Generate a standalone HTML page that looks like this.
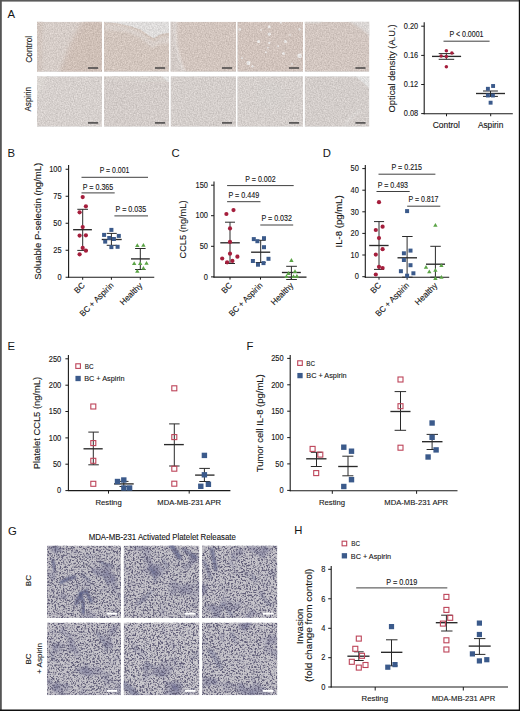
<!DOCTYPE html>
<html><head><meta charset="utf-8"><style>
html,body{margin:0;padding:0;background:#fff;}
svg{display:block;font-family:"Liberation Sans", sans-serif;}
</style></head><body>
<svg width="520" height="711" viewBox="0 0 520 711">
<defs>
<filter id="fA" x="0" y="0" width="100%" height="100%"><feTurbulence type="fractalNoise" baseFrequency="0.6" numOctaves="2" seed="3"/><feColorMatrix type="matrix" values="0 0 0 0 0.78  0 0 0 0 0.73  0 0 0 0 0.70  0 0 0 -1.2 1.0"/><feComposite in2="SourceGraphic" operator="in"/></filter>
<filter id="fG" x="0" y="0" width="100%" height="100%"><feTurbulence type="fractalNoise" baseFrequency="0.5" numOctaves="2" seed="7"/><feColorMatrix type="matrix" values="0 0 0 0 0.82  0 0 0 0 0.82  0 0 0 0 0.85  0 0 0 -2.2 1.3"/><feComposite in2="SourceGraphic" operator="in"/></filter>
<filter id="grainA" x="0" y="0" width="1" height="1" color-interpolation-filters="sRGB"><feTurbulence type="fractalNoise" baseFrequency="0.75" numOctaves="2" seed="3" result="n"/><feColorMatrix in="n" type="matrix" values="1 0 0 0 0  1 0 0 0 0  1 0 0 0 0  0 0 0 0 1" result="g"/><feComposite in="SourceGraphic" in2="g" operator="arithmetic" k1="0" k2="1" k3="0.22" k4="-0.11" result="o"/><feComposite in="o" in2="SourceGraphic" operator="in"/></filter>
<filter id="spkG" x="0" y="0" width="1" height="1" color-interpolation-filters="sRGB"><feTurbulence type="fractalNoise" baseFrequency="0.6" numOctaves="2" seed="11" result="n1"/><feColorMatrix in="n1" type="matrix" values="0 0 0 0 0.38  0 0 0 0 0.37  0 0 0 0 0.47  -5 0 0 0 3.1" result="a1"/><feTurbulence type="fractalNoise" baseFrequency="0.6" numOctaves="2" seed="37" result="n2"/><feColorMatrix in="n2" type="matrix" values="0 0 0 0 0  0 0 0 0 0  0 0 0 0 0  -5 0 0 0 3.1" result="a2"/><feComposite in="a1" in2="a2" operator="in" result="d"/><feGaussianBlur in="d" stdDeviation="0.5"/><feComposite in2="SourceGraphic" operator="in"/></filter>
<filter id="blobG" x="0" y="0" width="1" height="1" color-interpolation-filters="sRGB"><feTurbulence type="fractalNoise" baseFrequency="0.05" numOctaves="3" seed="21"/><feColorMatrix type="matrix" values="0 0 0 0 0.40  0 0 0 0 0.40  0 0 0 0 0.56  -2.2 0 0 0 1.0"/><feComposite in2="SourceGraphic" operator="in"/></filter>
<pattern id="noiseA" width="4" height="4" patternUnits="userSpaceOnUse"><rect width="4" height="4" fill="#ccc"/></pattern>
<clipPath id="cA00"><rect x="37" y="21.7" width="65.00" height="50.10"/></clipPath><clipPath id="cA01"><rect x="37" y="76.3" width="65.00" height="50.40"/></clipPath><clipPath id="cA10"><rect x="104" y="21.7" width="65.00" height="50.10"/></clipPath><clipPath id="cA11"><rect x="104" y="76.3" width="65.00" height="50.40"/></clipPath><clipPath id="cA20"><rect x="170.5" y="21.7" width="65.50" height="50.10"/></clipPath><clipPath id="cA21"><rect x="170.5" y="76.3" width="65.50" height="50.40"/></clipPath><clipPath id="cA30"><rect x="237.3" y="21.7" width="65.70" height="50.10"/></clipPath><clipPath id="cA31"><rect x="237.3" y="76.3" width="65.70" height="50.40"/></clipPath><clipPath id="cA40"><rect x="304.6" y="21.7" width="64.80" height="50.10"/></clipPath><clipPath id="cA41"><rect x="304.6" y="76.3" width="64.80" height="50.40"/></clipPath><clipPath id="cG00"><rect x="46.9" y="545.5" width="74.20" height="72.50"/></clipPath><clipPath id="cG01"><rect x="46.9" y="622.5" width="74.20" height="72.70"/></clipPath><clipPath id="cG10"><rect x="123.6" y="545.5" width="75.80" height="72.50"/></clipPath><clipPath id="cG11"><rect x="123.6" y="622.5" width="75.80" height="72.70"/></clipPath><clipPath id="cG20"><rect x="201.9" y="545.5" width="75.50" height="72.50"/></clipPath><clipPath id="cG21"><rect x="201.9" y="622.5" width="75.50" height="72.70"/></clipPath><filter id="bl1" x="-50%" y="-50%" width="200%" height="200%"><feGaussianBlur stdDeviation="0.31"/></filter><filter id="bl2" x="-50%" y="-50%" width="200%" height="200%"><feGaussianBlur stdDeviation="0.62"/></filter><filter id="bl3" x="-50%" y="-50%" width="200%" height="200%"><feGaussianBlur stdDeviation="0.94"/></filter><filter id="bl4" x="-50%" y="-50%" width="200%" height="200%"><feGaussianBlur stdDeviation="1.25"/></filter><filter id="bl5" x="-50%" y="-50%" width="200%" height="200%"><feGaussianBlur stdDeviation="1.56"/></filter><filter id="bl6" x="-50%" y="-50%" width="200%" height="200%"><feGaussianBlur stdDeviation="1.88"/></filter><filter id="bl7" x="-50%" y="-50%" width="200%" height="200%"><feGaussianBlur stdDeviation="2.19"/></filter><filter id="bl8" x="-50%" y="-50%" width="200%" height="200%"><feGaussianBlur stdDeviation="2.50"/></filter><filter id="bl9" x="-50%" y="-50%" width="200%" height="200%"><feGaussianBlur stdDeviation="2.81"/></filter><filter id="bl10" x="-50%" y="-50%" width="200%" height="200%"><feGaussianBlur stdDeviation="3.12"/></filter><filter id="bl11" x="-50%" y="-50%" width="200%" height="200%"><feGaussianBlur stdDeviation="3.44"/></filter><filter id="bl12" x="-50%" y="-50%" width="200%" height="200%"><feGaussianBlur stdDeviation="3.75"/></filter></defs>
<rect x="0" y="0" width="520" height="711" fill="#fff"/>
<text x="7.60" y="17.90" font-size="11.3" fill="#161616">A</text>
<g clip-path="url(#cA00)"><g filter="url(#grainA)">
<rect x="37" y="21.7" width="65.00" height="50.10" fill="#d6cdc8"/>
<polygon points="35.0,19.7 43.0,19.7 42.0,73.7 35.0,73.7" fill="#d2c6bf" filter="url(#bl4)"/>
<polygon points="83.0,19.7 104.0,19.7 104.0,73.7 59.0,73.7 71.0,41.7" fill="#cfc0b7" filter="url(#bl6)"/>
</g></g>
<line x1="88.00" y1="68.00" x2="98.10" y2="68.00" stroke="#4e4c4c" stroke-width="1.6"/>
<g clip-path="url(#cA01)"><g filter="url(#grainA)">
<rect x="37" y="76.3" width="65.00" height="50.40" fill="#d6d0cd"/>
<polygon points="35.0,74.3 49.0,74.3 43.0,84.3 40.0,94.3 35.0,96.3" fill="#dcd7d3" filter="url(#bl4)"/>
</g></g>
<line x1="88.00" y1="122.90" x2="98.10" y2="122.90" stroke="#4e4c4c" stroke-width="1.6"/>
<g clip-path="url(#cA10)"><g filter="url(#grainA)">
<rect x="104" y="21.7" width="65.00" height="50.10" fill="#d2c5bd"/>
<polygon points="103.0,19.7 104.7,22.5 115.5,22.9 129.6,25.9 140.4,29.5 150.0,36.2 154.0,38.2 159.0,34.9 162.5,33.7 171.0,32.7 171.0,19.7" fill="#dfdddc" filter="url(#bl1)"/>
<polygon points="104.0,23.7 116.0,24.7 130.0,28.2 141.0,32.2 149.0,39.2 154.0,41.7 160.0,37.7 171.0,35.7 171.0,43.7 160.0,43.7 152.0,47.7 140.0,37.7 126.0,31.7 104.0,29.7" fill="#d9d0cb" filter="url(#bl4)"/>
</g></g>
<line x1="155.00" y1="68.00" x2="165.10" y2="68.00" stroke="#4e4c4c" stroke-width="1.6"/>
<g clip-path="url(#cA11)"><g filter="url(#grainA)">
<rect x="104" y="76.3" width="65.00" height="50.40" fill="#d3ccc9"/>
<polygon points="102.0,74.3 171.0,74.3 171.0,82.3 144.0,82.3 119.0,80.3 102.0,81.3" fill="#d6d0cc" filter="url(#bl3)"/>
<polygon points="159.0,74.3 171.0,74.3 171.0,84.3 166.0,80.3" fill="#e2e1e0" filter="url(#bl2)"/>
</g></g>
<line x1="155.00" y1="122.90" x2="165.10" y2="122.90" stroke="#4e4c4c" stroke-width="1.6"/>
<g clip-path="url(#cA20)"><g filter="url(#grainA)">
<rect x="170.5" y="21.7" width="65.50" height="50.10" fill="#d2c5be"/>
<polygon points="168.5,19.7 176.0,19.7 175.3,31.7 176.3,46.7 180.0,61.7 184.5,73.7 168.5,73.7" fill="#d3cbc7" filter="url(#bl2)"/>
<polyline points="176.5,19.7 175.7,31.7 176.7,46.7 180.5,61.7 185.3,73.7" fill="none" stroke="#e6e3e1" stroke-width="1.4" filter="url(#bl3)"/>
</g></g>
<line x1="222.00" y1="68.00" x2="232.10" y2="68.00" stroke="#4e4c4c" stroke-width="1.6"/>
<g clip-path="url(#cA21)"><g filter="url(#grainA)">
<rect x="170.5" y="76.3" width="65.50" height="50.40" fill="#d4cecb"/>
</g></g>
<line x1="222.00" y1="122.90" x2="232.10" y2="122.90" stroke="#4e4c4c" stroke-width="1.6"/>
<g clip-path="url(#cA30)"><g filter="url(#grainA)">
<rect x="237.3" y="21.7" width="65.70" height="50.10" fill="#d1c3bc"/>
<circle cx="269.3" cy="26.7" r="1.52" fill="#e8e6e5" filter="url(#bl1)"/>
<circle cx="269.3" cy="34.1" r="1.71" fill="#e8e6e5" filter="url(#bl1)"/>
<circle cx="258.6" cy="41.5" r="1.615" fill="#e8e6e5" filter="url(#bl1)"/>
<circle cx="285.5" cy="41.5" r="1.52" fill="#e8e6e5" filter="url(#bl1)"/>
<circle cx="269.3" cy="42.9" r="1.14" fill="#e8e6e5" filter="url(#bl1)"/>
<circle cx="268.0" cy="47.6" r="0.95" fill="#e8e6e5" filter="url(#bl1)"/>
<circle cx="283.5" cy="53.6" r="1.52" fill="#e8e6e5" filter="url(#bl1)"/>
<circle cx="248.5" cy="63.1" r="2.09" fill="#e8e6e5" filter="url(#bl1)"/>
<circle cx="299.6" cy="55.7" r="2.28" fill="#e8e6e5" filter="url(#bl1)"/>
<circle cx="280.8" cy="22.7" r="1.14" fill="#e8e6e5" filter="url(#bl1)"/>
<circle cx="239.7" cy="29.4" r="1.3299999999999998" fill="#e8e6e5" filter="url(#bl1)"/>
<circle cx="252.5" cy="66.4" r="1.14" fill="#e8e6e5" filter="url(#bl1)"/>
<circle cx="266.0" cy="52.3" r="0.95" fill="#e8e6e5" filter="url(#bl1)"/>
<circle cx="278.0" cy="46.2" r="0.95" fill="#e8e6e5" filter="url(#bl1)"/>
<circle cx="299.6" cy="29.4" r="1.14" fill="#e8e6e5" filter="url(#bl1)"/>
<circle cx="290.0" cy="35.0" r="0.855" fill="#e8e6e5" filter="url(#bl1)"/>
<circle cx="261.0" cy="30.0" r="0.855" fill="#e8e6e5" filter="url(#bl1)"/>
<circle cx="242.0" cy="58.0" r="0.95" fill="#e8e6e5" filter="url(#bl1)"/>
<circle cx="292.0" cy="64.0" r="0.95" fill="#e8e6e5" filter="url(#bl1)"/>
</g></g>
<line x1="289.00" y1="68.00" x2="299.10" y2="68.00" stroke="#4e4c4c" stroke-width="1.6"/>
<g clip-path="url(#cA31)"><g filter="url(#grainA)">
<rect x="237.3" y="76.3" width="65.70" height="50.40" fill="#d5cfcc"/>
<polygon points="257.3,86.3 277.3,81.3 287.3,96.3 272.3,111.3 255.3,104.3" fill="#d4cfcc" filter="url(#bl10)"/>
</g></g>
<line x1="289.00" y1="122.90" x2="299.10" y2="122.90" stroke="#4e4c4c" stroke-width="1.6"/>
<g clip-path="url(#cA40)"><g filter="url(#grainA)">
<rect x="304.6" y="21.7" width="64.80" height="50.10" fill="#d2c6c0"/>
<polygon points="346.6,19.7 371.6,19.7 371.6,37.7 362.6,29.7" fill="#dbd7d5" filter="url(#bl3)"/>
<polygon points="304.6,19.7 324.6,19.7 320.6,23.2 304.6,23.7" fill="#d8d2ce" filter="url(#bl2)"/>
</g></g>
<line x1="355.40" y1="68.00" x2="365.50" y2="68.00" stroke="#4e4c4c" stroke-width="1.6"/>
<g clip-path="url(#cA41)"><g filter="url(#grainA)">
<rect x="304.6" y="76.3" width="64.80" height="50.40" fill="#d3cdca"/>
<polygon points="352.6,74.3 371.6,74.3 371.6,90.3 362.6,82.3" fill="#e0dfde" filter="url(#bl2)"/>
<polyline points="344.6,126.3 348.6,120.3 354.6,114.3 360.6,110.3" fill="none" stroke="#e2dfdd" stroke-width="1.6" filter="url(#bl3)"/>
</g></g>
<line x1="355.40" y1="122.90" x2="365.50" y2="122.90" stroke="#4e4c4c" stroke-width="1.6"/>
<text transform="translate(31.60,49.30) rotate(-90)" font-size="8.6" text-anchor="middle" textLength="27.00" lengthAdjust="spacingAndGlyphs" fill="#161616" stroke="#161616" stroke-width="0.12">Control</text>
<text transform="translate(31.30,99.20) rotate(-90)" font-size="8.6" text-anchor="middle" textLength="24.60" lengthAdjust="spacingAndGlyphs" fill="#161616" stroke="#161616" stroke-width="0.12">Aspirin</text>
<line x1="424.20" y1="22.20" x2="424.20" y2="114.25" stroke="#1a1a1a" stroke-width="1.1"/>
<line x1="421.20" y1="26.20" x2="424.20" y2="26.20" stroke="#1a1a1a" stroke-width="1.0"/>
<text x="418.20" y="28.95" font-size="8.3" text-anchor="end" textLength="14.35" lengthAdjust="spacingAndGlyphs" fill="#161616" stroke="#161616" stroke-width="0.12">0.20</text>
<line x1="421.20" y1="55.40" x2="424.20" y2="55.40" stroke="#1a1a1a" stroke-width="1.0"/>
<text x="418.20" y="58.15" font-size="8.3" text-anchor="end" textLength="14.35" lengthAdjust="spacingAndGlyphs" fill="#161616" stroke="#161616" stroke-width="0.12">0.16</text>
<line x1="421.20" y1="84.50" x2="424.20" y2="84.50" stroke="#1a1a1a" stroke-width="1.0"/>
<text x="418.20" y="87.25" font-size="8.3" text-anchor="end" textLength="14.35" lengthAdjust="spacingAndGlyphs" fill="#161616" stroke="#161616" stroke-width="0.12">0.12</text>
<line x1="421.20" y1="113.60" x2="424.20" y2="113.60" stroke="#1a1a1a" stroke-width="1.0"/>
<text x="418.20" y="116.35" font-size="8.3" text-anchor="end" textLength="14.35" lengthAdjust="spacingAndGlyphs" fill="#161616" stroke="#161616" stroke-width="0.12">0.08</text>
<line x1="423.70" y1="113.75" x2="512.80" y2="113.75" stroke="#1a1a1a" stroke-width="1.1"/>
<line x1="446.50" y1="113.75" x2="446.50" y2="116.25" stroke="#1a1a1a" stroke-width="1.0"/>
<line x1="490.70" y1="113.75" x2="490.70" y2="116.25" stroke="#1a1a1a" stroke-width="1.0"/>
<text x="446.30" y="128.00" font-size="8.4" text-anchor="middle" textLength="27.20" lengthAdjust="spacingAndGlyphs" fill="#161616" stroke="#161616" stroke-width="0.12">Control</text>
<text x="490.60" y="128.00" font-size="8.4" text-anchor="middle" textLength="25.40" lengthAdjust="spacingAndGlyphs" fill="#161616" stroke="#161616" stroke-width="0.12">Aspirin</text>
<text transform="translate(395.00,68.40) rotate(-90)" font-size="9.3" text-anchor="middle" textLength="88.20" lengthAdjust="spacingAndGlyphs" fill="#161616" stroke="#161616" stroke-width="0.12">Optical density (A.U.)</text>
<line x1="443.50" y1="41.20" x2="489.60" y2="41.20" stroke="#2a2a2a" stroke-width="0.9"/>
<text x="466.45" y="37.00" font-size="8.2" text-anchor="middle" textLength="34.10" lengthAdjust="spacingAndGlyphs" fill="#161616" stroke="#161616" stroke-width="0.12">P &lt; 0.0001</text>
<line x1="446.35" y1="53.60" x2="446.35" y2="59.30" stroke="#2a2a2a" stroke-width="1.0"/>
<line x1="438.70" y1="53.60" x2="454.20" y2="53.60" stroke="#2a2a2a" stroke-width="1.0"/>
<line x1="438.70" y1="59.30" x2="454.20" y2="59.30" stroke="#2a2a2a" stroke-width="1.0"/>
<line x1="432.00" y1="56.40" x2="461.10" y2="56.40" stroke="#2a2a2a" stroke-width="1.35"/>
<line x1="490.50" y1="91.00" x2="490.50" y2="96.40" stroke="#2a2a2a" stroke-width="1.0"/>
<line x1="483.00" y1="91.00" x2="497.90" y2="91.00" stroke="#2a2a2a" stroke-width="1.0"/>
<line x1="483.00" y1="96.40" x2="497.90" y2="96.40" stroke="#2a2a2a" stroke-width="1.0"/>
<line x1="476.00" y1="93.50" x2="505.00" y2="93.50" stroke="#2a2a2a" stroke-width="1.35"/>
<text x="7.60" y="157.20" font-size="11.3" fill="#161616">B</text>
<line x1="68.60" y1="165.10" x2="68.60" y2="277.75" stroke="#1a1a1a" stroke-width="1.1"/>
<line x1="65.60" y1="277.25" x2="68.60" y2="277.25" stroke="#1a1a1a" stroke-width="1.0"/>
<text x="61.60" y="280.00" font-size="8.3" text-anchor="end" textLength="4.15" lengthAdjust="spacingAndGlyphs" fill="#161616" stroke="#161616" stroke-width="0.12">0</text>
<line x1="65.60" y1="250.25" x2="68.60" y2="250.25" stroke="#1a1a1a" stroke-width="1.0"/>
<text x="61.60" y="253.00" font-size="8.3" text-anchor="end" textLength="8.30" lengthAdjust="spacingAndGlyphs" fill="#161616" stroke="#161616" stroke-width="0.12">25</text>
<line x1="65.60" y1="223.25" x2="68.60" y2="223.25" stroke="#1a1a1a" stroke-width="1.0"/>
<text x="61.60" y="226.00" font-size="8.3" text-anchor="end" textLength="8.30" lengthAdjust="spacingAndGlyphs" fill="#161616" stroke="#161616" stroke-width="0.12">50</text>
<line x1="65.60" y1="196.25" x2="68.60" y2="196.25" stroke="#1a1a1a" stroke-width="1.0"/>
<text x="61.60" y="199.00" font-size="8.3" text-anchor="end" textLength="8.30" lengthAdjust="spacingAndGlyphs" fill="#161616" stroke="#161616" stroke-width="0.12">75</text>
<line x1="65.60" y1="169.25" x2="68.60" y2="169.25" stroke="#1a1a1a" stroke-width="1.0"/>
<text x="61.60" y="172.00" font-size="8.3" text-anchor="end" textLength="12.45" lengthAdjust="spacingAndGlyphs" fill="#161616" stroke="#161616" stroke-width="0.12">100</text>
<line x1="68.10" y1="277.25" x2="154.25" y2="277.25" stroke="#1a1a1a" stroke-width="1.1"/>
<line x1="82.70" y1="277.25" x2="82.70" y2="279.75" stroke="#1a1a1a" stroke-width="1.0"/>
<line x1="111.40" y1="277.25" x2="111.40" y2="279.75" stroke="#1a1a1a" stroke-width="1.0"/>
<line x1="140.30" y1="277.25" x2="140.30" y2="279.75" stroke="#1a1a1a" stroke-width="1.0"/>
<text transform="translate(40.90,221.30) rotate(-90)" font-size="9.4" text-anchor="middle" textLength="117.00" lengthAdjust="spacingAndGlyphs" fill="#161616" stroke="#161616" stroke-width="0.12">Soluable P-selectin (ng/mL)</text>
<line x1="81.50" y1="177.30" x2="148.00" y2="177.30" stroke="#2a2a2a" stroke-width="0.9"/>
<text x="114.55" y="173.30" font-size="8.2" text-anchor="middle" textLength="29.70" lengthAdjust="spacingAndGlyphs" fill="#161616" stroke="#161616" stroke-width="0.12">P = 0.001</text>
<line x1="81.50" y1="192.90" x2="114.70" y2="192.90" stroke="#2a2a2a" stroke-width="0.9"/>
<text x="98.00" y="189.60" font-size="8.2" text-anchor="middle" textLength="30.60" lengthAdjust="spacingAndGlyphs" fill="#161616" stroke="#161616" stroke-width="0.12">P = 0.365</text>
<line x1="114.40" y1="215.90" x2="148.00" y2="215.90" stroke="#2a2a2a" stroke-width="0.9"/>
<text x="130.90" y="212.20" font-size="8.2" text-anchor="middle" textLength="30.60" lengthAdjust="spacingAndGlyphs" fill="#161616" stroke="#161616" stroke-width="0.12">P = 0.035</text>
<line x1="82.70" y1="209.30" x2="82.70" y2="250.40" stroke="#2a2a2a" stroke-width="1.0"/>
<line x1="77.30" y1="209.30" x2="88.00" y2="209.30" stroke="#2a2a2a" stroke-width="1.0"/>
<line x1="77.30" y1="250.40" x2="88.00" y2="250.40" stroke="#2a2a2a" stroke-width="1.0"/>
<line x1="73.10" y1="229.70" x2="91.90" y2="229.70" stroke="#2a2a2a" stroke-width="1.35"/>
<line x1="111.40" y1="233.40" x2="111.40" y2="245.30" stroke="#2a2a2a" stroke-width="1.0"/>
<line x1="106.70" y1="233.40" x2="116.75" y2="233.40" stroke="#2a2a2a" stroke-width="1.0"/>
<line x1="106.70" y1="245.30" x2="116.75" y2="245.30" stroke="#2a2a2a" stroke-width="1.0"/>
<line x1="101.75" y1="239.50" x2="121.70" y2="239.50" stroke="#2a2a2a" stroke-width="1.35"/>
<line x1="140.30" y1="248.50" x2="140.30" y2="269.50" stroke="#2a2a2a" stroke-width="1.0"/>
<line x1="135.10" y1="248.50" x2="145.60" y2="248.50" stroke="#2a2a2a" stroke-width="1.0"/>
<line x1="135.10" y1="269.50" x2="145.60" y2="269.50" stroke="#2a2a2a" stroke-width="1.0"/>
<line x1="131.00" y1="258.90" x2="149.80" y2="258.90" stroke="#2a2a2a" stroke-width="1.35"/>
<text x="171.40" y="157.30" font-size="11.3" fill="#161616">C</text>
<line x1="214.00" y1="181.50" x2="214.00" y2="277.60" stroke="#1a1a1a" stroke-width="1.1"/>
<line x1="211.00" y1="185.20" x2="214.00" y2="185.20" stroke="#1a1a1a" stroke-width="1.0"/>
<text x="208.00" y="187.95" font-size="8.3" text-anchor="end" textLength="12.45" lengthAdjust="spacingAndGlyphs" fill="#161616" stroke="#161616" stroke-width="0.12">150</text>
<line x1="211.00" y1="215.70" x2="214.00" y2="215.70" stroke="#1a1a1a" stroke-width="1.0"/>
<text x="208.00" y="218.45" font-size="8.3" text-anchor="end" textLength="12.45" lengthAdjust="spacingAndGlyphs" fill="#161616" stroke="#161616" stroke-width="0.12">100</text>
<line x1="211.00" y1="246.30" x2="214.00" y2="246.30" stroke="#1a1a1a" stroke-width="1.0"/>
<text x="208.00" y="249.05" font-size="8.3" text-anchor="end" textLength="8.30" lengthAdjust="spacingAndGlyphs" fill="#161616" stroke="#161616" stroke-width="0.12">50</text>
<line x1="211.00" y1="276.90" x2="214.00" y2="276.90" stroke="#1a1a1a" stroke-width="1.0"/>
<text x="208.00" y="279.65" font-size="8.3" text-anchor="end" textLength="4.15" lengthAdjust="spacingAndGlyphs" fill="#161616" stroke="#161616" stroke-width="0.12">0</text>
<line x1="213.50" y1="277.10" x2="306.50" y2="277.10" stroke="#1a1a1a" stroke-width="1.1"/>
<line x1="230.00" y1="277.10" x2="230.00" y2="279.60" stroke="#1a1a1a" stroke-width="1.0"/>
<line x1="260.50" y1="277.10" x2="260.50" y2="279.60" stroke="#1a1a1a" stroke-width="1.0"/>
<line x1="291.30" y1="277.10" x2="291.30" y2="279.60" stroke="#1a1a1a" stroke-width="1.0"/>
<text transform="translate(186.30,229.50) rotate(-90)" font-size="9.4" text-anchor="middle" textLength="58.00" lengthAdjust="spacingAndGlyphs" fill="#161616" stroke="#161616" stroke-width="0.12">CCL5 (ng/mL)</text>
<line x1="227.10" y1="185.60" x2="293.70" y2="185.60" stroke="#2a2a2a" stroke-width="0.9"/>
<text x="260.45" y="181.90" font-size="8.2" text-anchor="middle" textLength="30.30" lengthAdjust="spacingAndGlyphs" fill="#161616" stroke="#161616" stroke-width="0.12">P = 0.002</text>
<line x1="227.10" y1="201.70" x2="260.50" y2="201.70" stroke="#2a2a2a" stroke-width="0.9"/>
<text x="243.80" y="198.00" font-size="8.2" text-anchor="middle" textLength="30.60" lengthAdjust="spacingAndGlyphs" fill="#161616" stroke="#161616" stroke-width="0.12">P = 0.449</text>
<line x1="260.30" y1="225.00" x2="293.20" y2="225.00" stroke="#2a2a2a" stroke-width="0.9"/>
<text x="276.70" y="221.20" font-size="8.2" text-anchor="middle" textLength="30.60" lengthAdjust="spacingAndGlyphs" fill="#161616" stroke="#161616" stroke-width="0.12">P = 0.032</text>
<line x1="230.00" y1="222.20" x2="230.00" y2="263.50" stroke="#2a2a2a" stroke-width="1.0"/>
<line x1="225.00" y1="222.20" x2="235.00" y2="222.20" stroke="#2a2a2a" stroke-width="1.0"/>
<line x1="225.00" y1="263.50" x2="235.00" y2="263.50" stroke="#2a2a2a" stroke-width="1.0"/>
<line x1="220.30" y1="242.80" x2="239.80" y2="242.80" stroke="#2a2a2a" stroke-width="1.35"/>
<line x1="260.70" y1="240.30" x2="260.70" y2="262.50" stroke="#2a2a2a" stroke-width="1.0"/>
<line x1="255.70" y1="240.30" x2="265.70" y2="240.30" stroke="#2a2a2a" stroke-width="1.0"/>
<line x1="255.70" y1="262.50" x2="265.70" y2="262.50" stroke="#2a2a2a" stroke-width="1.0"/>
<line x1="251.10" y1="252.20" x2="270.20" y2="252.20" stroke="#2a2a2a" stroke-width="1.35"/>
<line x1="291.40" y1="266.30" x2="291.40" y2="279.50" stroke="#2a2a2a" stroke-width="1.0"/>
<line x1="286.20" y1="266.30" x2="296.90" y2="266.30" stroke="#2a2a2a" stroke-width="1.0"/>
<line x1="286.20" y1="279.50" x2="296.90" y2="279.50" stroke="#2a2a2a" stroke-width="1.0"/>
<line x1="281.90" y1="272.50" x2="300.80" y2="272.50" stroke="#2a2a2a" stroke-width="1.35"/>
<text x="322.80" y="157.00" font-size="11.3" fill="#161616">D</text>
<line x1="365.30" y1="165.10" x2="365.30" y2="277.70" stroke="#1a1a1a" stroke-width="1.1"/>
<line x1="362.30" y1="168.60" x2="365.30" y2="168.60" stroke="#1a1a1a" stroke-width="1.0"/>
<text x="358.80" y="171.35" font-size="8.3" text-anchor="end" textLength="8.30" lengthAdjust="spacingAndGlyphs" fill="#161616" stroke="#161616" stroke-width="0.12">50</text>
<line x1="362.30" y1="190.20" x2="365.30" y2="190.20" stroke="#1a1a1a" stroke-width="1.0"/>
<text x="358.80" y="192.95" font-size="8.3" text-anchor="end" textLength="8.30" lengthAdjust="spacingAndGlyphs" fill="#161616" stroke="#161616" stroke-width="0.12">40</text>
<line x1="362.30" y1="211.80" x2="365.30" y2="211.80" stroke="#1a1a1a" stroke-width="1.0"/>
<text x="358.80" y="214.55" font-size="8.3" text-anchor="end" textLength="8.30" lengthAdjust="spacingAndGlyphs" fill="#161616" stroke="#161616" stroke-width="0.12">30</text>
<line x1="362.30" y1="233.40" x2="365.30" y2="233.40" stroke="#1a1a1a" stroke-width="1.0"/>
<text x="358.80" y="236.15" font-size="8.3" text-anchor="end" textLength="8.30" lengthAdjust="spacingAndGlyphs" fill="#161616" stroke="#161616" stroke-width="0.12">20</text>
<line x1="362.30" y1="255.00" x2="365.30" y2="255.00" stroke="#1a1a1a" stroke-width="1.0"/>
<text x="358.80" y="257.75" font-size="8.3" text-anchor="end" textLength="8.30" lengthAdjust="spacingAndGlyphs" fill="#161616" stroke="#161616" stroke-width="0.12">10</text>
<line x1="362.30" y1="276.70" x2="365.30" y2="276.70" stroke="#1a1a1a" stroke-width="1.0"/>
<text x="358.80" y="279.45" font-size="8.3" text-anchor="end" textLength="4.15" lengthAdjust="spacingAndGlyphs" fill="#161616" stroke="#161616" stroke-width="0.12">0</text>
<line x1="364.80" y1="277.20" x2="449.20" y2="277.20" stroke="#1a1a1a" stroke-width="1.1"/>
<line x1="379.00" y1="277.20" x2="379.00" y2="279.70" stroke="#1a1a1a" stroke-width="1.0"/>
<line x1="407.10" y1="277.20" x2="407.10" y2="279.70" stroke="#1a1a1a" stroke-width="1.0"/>
<line x1="435.40" y1="277.20" x2="435.40" y2="279.70" stroke="#1a1a1a" stroke-width="1.0"/>
<text transform="translate(341.60,221.40) rotate(-90)" font-size="9.4" text-anchor="middle" textLength="52.00" lengthAdjust="spacingAndGlyphs" fill="#161616" stroke="#161616" stroke-width="0.12">IL-8 (pg/mL)</text>
<line x1="378.50" y1="174.20" x2="435.40" y2="174.20" stroke="#2a2a2a" stroke-width="0.9"/>
<text x="406.75" y="169.50" font-size="8.2" text-anchor="middle" textLength="30.50" lengthAdjust="spacingAndGlyphs" fill="#161616" stroke="#161616" stroke-width="0.12">P = 0.215</text>
<line x1="376.50" y1="191.50" x2="409.70" y2="191.50" stroke="#2a2a2a" stroke-width="0.9"/>
<text x="392.85" y="187.80" font-size="8.2" text-anchor="middle" textLength="30.30" lengthAdjust="spacingAndGlyphs" fill="#161616" stroke="#161616" stroke-width="0.12">P = 0.493</text>
<line x1="407.20" y1="206.20" x2="440.30" y2="206.20" stroke="#2a2a2a" stroke-width="0.9"/>
<text x="423.50" y="202.40" font-size="8.2" text-anchor="middle" textLength="30.00" lengthAdjust="spacingAndGlyphs" fill="#161616" stroke="#161616" stroke-width="0.12">P = 0.817</text>
<line x1="379.00" y1="221.60" x2="379.00" y2="269.40" stroke="#2a2a2a" stroke-width="1.0"/>
<line x1="374.00" y1="221.60" x2="384.10" y2="221.60" stroke="#2a2a2a" stroke-width="1.0"/>
<line x1="374.00" y1="269.40" x2="384.10" y2="269.40" stroke="#2a2a2a" stroke-width="1.0"/>
<line x1="369.20" y1="245.50" x2="388.60" y2="245.50" stroke="#2a2a2a" stroke-width="1.35"/>
<line x1="407.10" y1="236.50" x2="407.10" y2="277.20" stroke="#2a2a2a" stroke-width="1.0"/>
<line x1="402.10" y1="236.50" x2="412.60" y2="236.50" stroke="#2a2a2a" stroke-width="1.0"/>
<line x1="402.10" y1="277.20" x2="412.60" y2="277.20" stroke="#2a2a2a" stroke-width="1.0"/>
<line x1="397.50" y1="257.80" x2="417.00" y2="257.80" stroke="#2a2a2a" stroke-width="1.35"/>
<line x1="435.40" y1="246.30" x2="435.40" y2="277.20" stroke="#2a2a2a" stroke-width="1.0"/>
<line x1="430.30" y1="246.30" x2="440.80" y2="246.30" stroke="#2a2a2a" stroke-width="1.0"/>
<line x1="430.30" y1="277.20" x2="440.80" y2="277.20" stroke="#2a2a2a" stroke-width="1.0"/>
<line x1="426.00" y1="264.20" x2="445.00" y2="264.20" stroke="#2a2a2a" stroke-width="1.35"/>
<text transform="translate(85.30,286.00) rotate(-45)" font-size="8.4" text-anchor="end" textLength="11.20" lengthAdjust="spacingAndGlyphs" fill="#161616" stroke="#161616" stroke-width="0.12">BC</text>
<text transform="translate(114.00,286.00) rotate(-45)" font-size="8.4" text-anchor="end" textLength="43.80" lengthAdjust="spacingAndGlyphs" fill="#161616" stroke="#161616" stroke-width="0.12">BC + Aspirin</text>
<text transform="translate(142.90,286.00) rotate(-45)" font-size="8.4" text-anchor="end" textLength="27.90" lengthAdjust="spacingAndGlyphs" fill="#161616" stroke="#161616" stroke-width="0.12">Healthy</text>
<text transform="translate(232.60,286.00) rotate(-45)" font-size="8.4" text-anchor="end" textLength="11.20" lengthAdjust="spacingAndGlyphs" fill="#161616" stroke="#161616" stroke-width="0.12">BC</text>
<text transform="translate(263.10,286.00) rotate(-45)" font-size="8.4" text-anchor="end" textLength="43.80" lengthAdjust="spacingAndGlyphs" fill="#161616" stroke="#161616" stroke-width="0.12">BC + Aspirin</text>
<text transform="translate(293.90,286.00) rotate(-45)" font-size="8.4" text-anchor="end" textLength="27.90" lengthAdjust="spacingAndGlyphs" fill="#161616" stroke="#161616" stroke-width="0.12">Healthy</text>
<text transform="translate(381.60,286.00) rotate(-45)" font-size="8.4" text-anchor="end" textLength="11.20" lengthAdjust="spacingAndGlyphs" fill="#161616" stroke="#161616" stroke-width="0.12">BC</text>
<text transform="translate(409.70,286.00) rotate(-45)" font-size="8.4" text-anchor="end" textLength="43.80" lengthAdjust="spacingAndGlyphs" fill="#161616" stroke="#161616" stroke-width="0.12">BC + Aspirin</text>
<text transform="translate(438.00,286.00) rotate(-45)" font-size="8.4" text-anchor="end" textLength="27.90" lengthAdjust="spacingAndGlyphs" fill="#161616" stroke="#161616" stroke-width="0.12">Healthy</text>
<text x="7.60" y="350.30" font-size="11.3" fill="#161616">E</text>
<line x1="68.40" y1="354.90" x2="68.40" y2="491.10" stroke="#1a1a1a" stroke-width="1.1"/>
<line x1="65.40" y1="358.80" x2="68.40" y2="358.80" stroke="#1a1a1a" stroke-width="1.0"/>
<text x="61.20" y="361.55" font-size="8.3" text-anchor="end" textLength="12.45" lengthAdjust="spacingAndGlyphs" fill="#161616" stroke="#161616" stroke-width="0.12">250</text>
<line x1="65.40" y1="385.20" x2="68.40" y2="385.20" stroke="#1a1a1a" stroke-width="1.0"/>
<text x="61.20" y="387.95" font-size="8.3" text-anchor="end" textLength="12.45" lengthAdjust="spacingAndGlyphs" fill="#161616" stroke="#161616" stroke-width="0.12">200</text>
<line x1="65.40" y1="411.50" x2="68.40" y2="411.50" stroke="#1a1a1a" stroke-width="1.0"/>
<text x="61.20" y="414.25" font-size="8.3" text-anchor="end" textLength="12.45" lengthAdjust="spacingAndGlyphs" fill="#161616" stroke="#161616" stroke-width="0.12">150</text>
<line x1="65.40" y1="437.90" x2="68.40" y2="437.90" stroke="#1a1a1a" stroke-width="1.0"/>
<text x="61.20" y="440.65" font-size="8.3" text-anchor="end" textLength="12.45" lengthAdjust="spacingAndGlyphs" fill="#161616" stroke="#161616" stroke-width="0.12">100</text>
<line x1="65.40" y1="464.20" x2="68.40" y2="464.20" stroke="#1a1a1a" stroke-width="1.0"/>
<text x="61.20" y="466.95" font-size="8.3" text-anchor="end" textLength="8.30" lengthAdjust="spacingAndGlyphs" fill="#161616" stroke="#161616" stroke-width="0.12">50</text>
<line x1="65.40" y1="490.60" x2="68.40" y2="490.60" stroke="#1a1a1a" stroke-width="1.0"/>
<text x="61.20" y="493.35" font-size="8.3" text-anchor="end" textLength="4.15" lengthAdjust="spacingAndGlyphs" fill="#161616" stroke="#161616" stroke-width="0.12">0</text>
<line x1="67.90" y1="490.60" x2="230.40" y2="490.60" stroke="#1a1a1a" stroke-width="1.1"/>
<line x1="108.50" y1="490.60" x2="108.50" y2="493.60" stroke="#1a1a1a" stroke-width="1.0"/>
<line x1="189.20" y1="490.60" x2="189.20" y2="493.60" stroke="#1a1a1a" stroke-width="1.0"/>
<text transform="translate(40.40,423.10) rotate(-90)" font-size="9.4" text-anchor="middle" textLength="92.20" lengthAdjust="spacingAndGlyphs" fill="#161616" stroke="#161616" stroke-width="0.12">Platelet CCL5 (ng/mL)</text>
<text x="84.80" y="368.90" font-size="7.8" textLength="8.80" lengthAdjust="spacingAndGlyphs" fill="#161616" stroke="#161616" stroke-width="0.12">BC</text>
<text x="84.20" y="381.20" font-size="7.8" textLength="40.30" lengthAdjust="spacingAndGlyphs" fill="#161616" stroke="#161616" stroke-width="0.12">BC + Aspirin</text>
<text x="108.60" y="504.50" font-size="8.1" text-anchor="middle" textLength="26.20" lengthAdjust="spacingAndGlyphs" fill="#161616" stroke="#161616" stroke-width="0.12">Resting</text>
<text x="189.20" y="504.50" font-size="8.1" text-anchor="middle" textLength="63.80" lengthAdjust="spacingAndGlyphs" fill="#161616" stroke="#161616" stroke-width="0.12">MDA-MB-231 APR</text>
<line x1="93.30" y1="432.10" x2="93.30" y2="464.80" stroke="#2a2a2a" stroke-width="1.0"/>
<line x1="88.30" y1="432.10" x2="98.80" y2="432.10" stroke="#2a2a2a" stroke-width="1.0"/>
<line x1="88.30" y1="464.80" x2="98.80" y2="464.80" stroke="#2a2a2a" stroke-width="1.0"/>
<line x1="83.50" y1="448.80" x2="102.70" y2="448.80" stroke="#2a2a2a" stroke-width="1.35"/>
<line x1="123.80" y1="481.40" x2="123.80" y2="486.50" stroke="#2a2a2a" stroke-width="1.0"/>
<line x1="119.50" y1="481.40" x2="128.50" y2="481.40" stroke="#2a2a2a" stroke-width="1.0"/>
<line x1="119.50" y1="486.50" x2="128.50" y2="486.50" stroke="#2a2a2a" stroke-width="1.0"/>
<line x1="114.00" y1="483.90" x2="133.70" y2="483.90" stroke="#2a2a2a" stroke-width="1.35"/>
<line x1="174.30" y1="423.90" x2="174.30" y2="466.00" stroke="#2a2a2a" stroke-width="1.0"/>
<line x1="169.10" y1="423.90" x2="179.60" y2="423.90" stroke="#2a2a2a" stroke-width="1.0"/>
<line x1="169.10" y1="466.00" x2="179.60" y2="466.00" stroke="#2a2a2a" stroke-width="1.0"/>
<line x1="164.00" y1="444.60" x2="183.80" y2="444.60" stroke="#2a2a2a" stroke-width="1.35"/>
<line x1="204.40" y1="468.40" x2="204.40" y2="481.50" stroke="#2a2a2a" stroke-width="1.0"/>
<line x1="199.30" y1="468.40" x2="209.90" y2="468.40" stroke="#2a2a2a" stroke-width="1.0"/>
<line x1="199.30" y1="481.50" x2="209.90" y2="481.50" stroke="#2a2a2a" stroke-width="1.0"/>
<line x1="195.10" y1="475.10" x2="214.50" y2="475.10" stroke="#2a2a2a" stroke-width="1.35"/>
<text x="246.40" y="350.20" font-size="11.3" fill="#161616">F</text>
<line x1="290.20" y1="355.00" x2="290.20" y2="491.30" stroke="#1a1a1a" stroke-width="1.1"/>
<line x1="287.20" y1="358.40" x2="290.20" y2="358.40" stroke="#1a1a1a" stroke-width="1.0"/>
<text x="283.60" y="361.15" font-size="8.3" text-anchor="end" textLength="12.45" lengthAdjust="spacingAndGlyphs" fill="#161616" stroke="#161616" stroke-width="0.12">250</text>
<line x1="287.20" y1="384.80" x2="290.20" y2="384.80" stroke="#1a1a1a" stroke-width="1.0"/>
<text x="283.60" y="387.55" font-size="8.3" text-anchor="end" textLength="12.45" lengthAdjust="spacingAndGlyphs" fill="#161616" stroke="#161616" stroke-width="0.12">200</text>
<line x1="287.20" y1="411.20" x2="290.20" y2="411.20" stroke="#1a1a1a" stroke-width="1.0"/>
<text x="283.60" y="413.95" font-size="8.3" text-anchor="end" textLength="12.45" lengthAdjust="spacingAndGlyphs" fill="#161616" stroke="#161616" stroke-width="0.12">150</text>
<line x1="287.20" y1="437.60" x2="290.20" y2="437.60" stroke="#1a1a1a" stroke-width="1.0"/>
<text x="283.60" y="440.35" font-size="8.3" text-anchor="end" textLength="12.45" lengthAdjust="spacingAndGlyphs" fill="#161616" stroke="#161616" stroke-width="0.12">100</text>
<line x1="287.20" y1="463.90" x2="290.20" y2="463.90" stroke="#1a1a1a" stroke-width="1.0"/>
<text x="283.60" y="466.65" font-size="8.3" text-anchor="end" textLength="8.30" lengthAdjust="spacingAndGlyphs" fill="#161616" stroke="#161616" stroke-width="0.12">50</text>
<line x1="287.20" y1="490.40" x2="290.20" y2="490.40" stroke="#1a1a1a" stroke-width="1.0"/>
<text x="283.60" y="493.15" font-size="8.3" text-anchor="end" textLength="4.15" lengthAdjust="spacingAndGlyphs" fill="#161616" stroke="#161616" stroke-width="0.12">0</text>
<line x1="289.70" y1="490.80" x2="457.50" y2="490.80" stroke="#1a1a1a" stroke-width="1.1"/>
<line x1="332.30" y1="490.80" x2="332.30" y2="493.80" stroke="#1a1a1a" stroke-width="1.0"/>
<line x1="416.60" y1="490.80" x2="416.60" y2="493.80" stroke="#1a1a1a" stroke-width="1.0"/>
<text transform="translate(262.80,423.30) rotate(-90)" font-size="9.4" text-anchor="middle" textLength="98.00" lengthAdjust="spacingAndGlyphs" fill="#161616" stroke="#161616" stroke-width="0.12">Tumor cell IL-8 (pg/mL)</text>
<text x="306.30" y="365.90" font-size="7.8" textLength="8.80" lengthAdjust="spacingAndGlyphs" fill="#161616" stroke="#161616" stroke-width="0.12">BC</text>
<text x="306.30" y="378.30" font-size="7.8" textLength="40.30" lengthAdjust="spacingAndGlyphs" fill="#161616" stroke="#161616" stroke-width="0.12">BC + Aspirin</text>
<text x="332.00" y="504.50" font-size="8.1" text-anchor="middle" textLength="26.20" lengthAdjust="spacingAndGlyphs" fill="#161616" stroke="#161616" stroke-width="0.12">Resting</text>
<text x="416.20" y="504.50" font-size="8.1" text-anchor="middle" textLength="63.90" lengthAdjust="spacingAndGlyphs" fill="#161616" stroke="#161616" stroke-width="0.12">MDA-MB-231 APR</text>
<line x1="316.50" y1="452.30" x2="316.50" y2="466.50" stroke="#2a2a2a" stroke-width="1.0"/>
<line x1="310.80" y1="452.30" x2="321.80" y2="452.30" stroke="#2a2a2a" stroke-width="1.0"/>
<line x1="310.80" y1="466.50" x2="321.80" y2="466.50" stroke="#2a2a2a" stroke-width="1.0"/>
<line x1="306.20" y1="458.80" x2="326.50" y2="458.80" stroke="#2a2a2a" stroke-width="1.35"/>
<line x1="348.00" y1="456.20" x2="348.00" y2="475.80" stroke="#2a2a2a" stroke-width="1.0"/>
<line x1="342.30" y1="456.20" x2="353.40" y2="456.20" stroke="#2a2a2a" stroke-width="1.0"/>
<line x1="342.30" y1="475.80" x2="353.40" y2="475.80" stroke="#2a2a2a" stroke-width="1.0"/>
<line x1="338.20" y1="466.50" x2="357.70" y2="466.50" stroke="#2a2a2a" stroke-width="1.35"/>
<line x1="400.50" y1="391.60" x2="400.50" y2="430.30" stroke="#2a2a2a" stroke-width="1.0"/>
<line x1="394.60" y1="391.60" x2="406.10" y2="391.60" stroke="#2a2a2a" stroke-width="1.0"/>
<line x1="394.60" y1="430.30" x2="406.10" y2="430.30" stroke="#2a2a2a" stroke-width="1.0"/>
<line x1="390.40" y1="411.50" x2="410.50" y2="411.50" stroke="#2a2a2a" stroke-width="1.35"/>
<line x1="432.10" y1="434.40" x2="432.10" y2="449.50" stroke="#2a2a2a" stroke-width="1.0"/>
<line x1="426.60" y1="434.40" x2="438.00" y2="434.40" stroke="#2a2a2a" stroke-width="1.0"/>
<line x1="426.60" y1="449.50" x2="438.00" y2="449.50" stroke="#2a2a2a" stroke-width="1.0"/>
<line x1="422.00" y1="441.70" x2="442.50" y2="441.70" stroke="#2a2a2a" stroke-width="1.35"/>
<text x="7.90" y="534.50" font-size="11.3" fill="#161616">G</text>
<text x="162.30" y="540.20" font-size="8.5" text-anchor="middle" textLength="147.20" lengthAdjust="spacingAndGlyphs" fill="#161616" stroke="#161616" stroke-width="0.12">MDA-MB-231 Activated Platelet Releasate</text>
<g clip-path="url(#cG00)">
<rect x="46.9" y="545.5" width="74.20" height="72.50" fill="#c5c3c9"/>
<rect x="46.9" y="545.5" width="74.20" height="72.50" fill="#000" filter="url(#blobG)"/>
<polyline points="52.7,560.1 53.9,565.5 54.9,570.4" fill="none" stroke="#3e4478" stroke-width="2.6" stroke-linecap="round" stroke-linejoin="round" opacity="0.68" filter="url(#bl3)"/>
<polyline points="60.9,582.5 64.4,580.5 68.9,578.5 74.7,576.9" fill="none" stroke="#3e4478" stroke-width="3.1" stroke-linecap="round" stroke-linejoin="round" opacity="0.71" filter="url(#bl3)"/>
<polyline points="81.9,574.5 84.9,577.0 89.3,580.5" fill="none" stroke="#3e4478" stroke-width="2.2" stroke-linecap="round" stroke-linejoin="round" opacity="0.52" filter="url(#bl3)"/>
<polyline points="76.1,604.0 80.5,593.7 86.4,590.8 90.8,601.1" fill="none" stroke="#3e4478" stroke-width="3.1" stroke-linecap="round" stroke-linejoin="round" opacity="0.71" filter="url(#bl3)"/>
<polyline points="80.5,593.7 83.4,603.5 83.4,612.8" fill="none" stroke="#3e4478" stroke-width="3.1" stroke-linecap="round" stroke-linejoin="round" opacity="0.71" filter="url(#bl3)"/>
<polyline points="99.5,561.5 105.4,564.5 112.7,566.0" fill="none" stroke="#3e4478" stroke-width="2.2" stroke-linecap="round" stroke-linejoin="round" opacity="0.52" filter="url(#bl3)"/>
<polyline points="102.5,574.7 104.9,578.5 108.3,583.5" fill="none" stroke="#3e4478" stroke-width="1.9" stroke-linecap="round" stroke-linejoin="round" opacity="0.45" filter="url(#bl3)"/>
<polyline points="54.9,547.5 60.9,550.5" fill="none" stroke="#3e4478" stroke-width="1.9" stroke-linecap="round" stroke-linejoin="round" opacity="0.38" filter="url(#bl3)"/>
<rect x="46.9" y="545.5" width="74.20" height="72.50" fill="#000" filter="url(#spkG)"/>
</g>
<line x1="106.60" y1="613.70" x2="117.30" y2="613.70" stroke="#ffffff" stroke-width="1.9"/>
<g clip-path="url(#cG01)">
<rect x="46.9" y="622.5" width="74.20" height="72.70" fill="#c7c5cb"/>
<rect x="46.9" y="622.5" width="74.20" height="72.70" fill="#000" filter="url(#blobG)"/>
<polyline points="96.9,632.5 102.9,640.5 106.9,650.5" fill="none" stroke="#3e4478" stroke-width="2.4" stroke-linecap="round" stroke-linejoin="round" opacity="0.34" filter="url(#bl3)"/>
<polyline points="50.9,652.5 54.9,660.5" fill="none" stroke="#3e4478" stroke-width="2.2" stroke-linecap="round" stroke-linejoin="round" opacity="0.34" filter="url(#bl3)"/>
<rect x="46.9" y="622.5" width="74.20" height="72.70" fill="#000" filter="url(#spkG)"/>
</g>
<line x1="106.60" y1="690.90" x2="117.30" y2="690.90" stroke="#ffffff" stroke-width="1.9"/>
<g clip-path="url(#cG10)">
<rect x="123.6" y="545.5" width="75.80" height="72.50" fill="#c6c4ca"/>
<rect x="123.6" y="545.5" width="75.80" height="72.50" fill="#000" filter="url(#blobG)"/>
<polyline points="171.6,545.5 175.6,551.5 179.6,557.5" fill="none" stroke="#3e4478" stroke-width="4.8" stroke-linecap="round" stroke-linejoin="round" opacity="0.60" filter="url(#bl3)"/>
<polyline points="183.6,549.5 189.6,553.5 195.6,557.5" fill="none" stroke="#3e4478" stroke-width="3.6" stroke-linecap="round" stroke-linejoin="round" opacity="0.45" filter="url(#bl3)"/>
<polyline points="149.6,567.5 153.6,573.5 155.6,581.5" fill="none" stroke="#3e4478" stroke-width="2.4" stroke-linecap="round" stroke-linejoin="round" opacity="0.45" filter="url(#bl3)"/>
<polyline points="163.6,559.5 167.6,567.5" fill="none" stroke="#3e4478" stroke-width="1.9" stroke-linecap="round" stroke-linejoin="round" opacity="0.38" filter="url(#bl3)"/>
<polyline points="137.6,603.5 145.6,597.5 151.6,591.5" fill="none" stroke="#3e4478" stroke-width="2.2" stroke-linecap="round" stroke-linejoin="round" opacity="0.38" filter="url(#bl3)"/>
<rect x="123.6" y="545.5" width="75.80" height="72.50" fill="#000" filter="url(#spkG)"/>
</g>
<line x1="184.90" y1="613.70" x2="195.60" y2="613.70" stroke="#ffffff" stroke-width="1.9"/>
<g clip-path="url(#cG11)">
<rect x="123.6" y="622.5" width="75.80" height="72.70" fill="#cbc9ce"/>
<rect x="123.6" y="622.5" width="75.80" height="72.70" fill="#000" filter="url(#blobG)"/>
<polyline points="123.6,684.5 129.6,688.5 135.6,694.5" fill="none" stroke="#3e4478" stroke-width="7.2" stroke-linecap="round" stroke-linejoin="round" opacity="0.38" filter="url(#bl3)"/>
<polyline points="145.6,662.5 151.6,666.5" fill="none" stroke="#3e4478" stroke-width="2.2" stroke-linecap="round" stroke-linejoin="round" opacity="0.38" filter="url(#bl3)"/>
<polyline points="179.6,662.5 183.6,668.5" fill="none" stroke="#3e4478" stroke-width="1.9" stroke-linecap="round" stroke-linejoin="round" opacity="0.30" filter="url(#bl3)"/>
<rect x="123.6" y="622.5" width="75.80" height="72.70" fill="#000" filter="url(#spkG)"/>
</g>
<line x1="184.90" y1="690.90" x2="195.60" y2="690.90" stroke="#ffffff" stroke-width="1.9"/>
<g clip-path="url(#cG20)">
<rect x="201.9" y="545.5" width="75.50" height="72.50" fill="#c7c5cb"/>
<rect x="201.9" y="545.5" width="75.50" height="72.50" fill="#000" filter="url(#blobG)"/>
<polyline points="211.9,549.5 213.9,559.5 215.9,569.5" fill="none" stroke="#3e4478" stroke-width="3.6" stroke-linecap="round" stroke-linejoin="round" opacity="0.60" filter="url(#bl3)"/>
<polyline points="203.9,561.5 207.9,569.5 209.9,577.5" fill="none" stroke="#3e4478" stroke-width="2.9" stroke-linecap="round" stroke-linejoin="round" opacity="0.45" filter="url(#bl3)"/>
<polyline points="231.9,555.5 237.9,559.5" fill="none" stroke="#3e4478" stroke-width="1.9" stroke-linecap="round" stroke-linejoin="round" opacity="0.38" filter="url(#bl3)"/>
<polyline points="251.9,575.5 255.9,581.5" fill="none" stroke="#3e4478" stroke-width="1.9" stroke-linecap="round" stroke-linejoin="round" opacity="0.38" filter="url(#bl3)"/>
<polyline points="261.9,595.5 265.9,601.5 271.9,605.5" fill="none" stroke="#3e4478" stroke-width="1.9" stroke-linecap="round" stroke-linejoin="round" opacity="0.38" filter="url(#bl3)"/>
<polyline points="221.9,603.5 227.9,609.5 231.9,615.5" fill="none" stroke="#3e4478" stroke-width="2.4" stroke-linecap="round" stroke-linejoin="round" opacity="0.45" filter="url(#bl3)"/>
<rect x="201.9" y="545.5" width="75.50" height="72.50" fill="#000" filter="url(#spkG)"/>
</g>
<line x1="262.90" y1="613.70" x2="273.60" y2="613.70" stroke="#ffffff" stroke-width="1.9"/>
<g clip-path="url(#cG21)">
<rect x="201.9" y="622.5" width="75.50" height="72.70" fill="#c7c5cb"/>
<rect x="201.9" y="622.5" width="75.50" height="72.70" fill="#000" filter="url(#blobG)"/>
<polyline points="209.9,650.5 215.9,658.5 219.9,666.5" fill="none" stroke="#3e4478" stroke-width="4.8" stroke-linecap="round" stroke-linejoin="round" opacity="0.30" filter="url(#bl3)"/>
<polyline points="231.9,632.5 235.9,642.5" fill="none" stroke="#3e4478" stroke-width="2.4" stroke-linecap="round" stroke-linejoin="round" opacity="0.26" filter="url(#bl3)"/>
<rect x="201.9" y="622.5" width="75.50" height="72.70" fill="#000" filter="url(#spkG)"/>
</g>
<line x1="262.90" y1="690.90" x2="273.60" y2="690.90" stroke="#ffffff" stroke-width="1.9"/>
<text transform="translate(31.00,580.60) rotate(-90)" font-size="8.0" text-anchor="middle" fill="#161616" stroke="#161616" stroke-width="0.12">BC</text>
<text transform="translate(31.00,658.90) rotate(-90)" font-size="8.0" text-anchor="middle" fill="#161616" stroke="#161616" stroke-width="0.12">BC</text>
<text transform="translate(41.90,658.40) rotate(-90)" font-size="8.0" text-anchor="middle" fill="#161616" stroke="#161616" stroke-width="0.12">+ Aspirin</text>
<text x="294.20" y="533.80" font-size="11.3" fill="#161616">H</text>
<text x="351.20" y="546.30" font-size="7.8" textLength="8.80" lengthAdjust="spacingAndGlyphs" fill="#161616" stroke="#161616" stroke-width="0.12">BC</text>
<text x="350.80" y="558.60" font-size="7.8" textLength="40.30" lengthAdjust="spacingAndGlyphs" fill="#161616" stroke="#161616" stroke-width="0.12">BC + Aspirin</text>
<line x1="331.20" y1="566.00" x2="331.20" y2="687.50" stroke="#1a1a1a" stroke-width="1.1"/>
<line x1="328.20" y1="569.30" x2="331.20" y2="569.30" stroke="#1a1a1a" stroke-width="1.0"/>
<text x="325.40" y="572.05" font-size="8.3" text-anchor="end" textLength="4.15" lengthAdjust="spacingAndGlyphs" fill="#161616" stroke="#161616" stroke-width="0.12">8</text>
<line x1="328.20" y1="598.80" x2="331.20" y2="598.80" stroke="#1a1a1a" stroke-width="1.0"/>
<text x="325.40" y="601.55" font-size="8.3" text-anchor="end" textLength="4.15" lengthAdjust="spacingAndGlyphs" fill="#161616" stroke="#161616" stroke-width="0.12">6</text>
<line x1="328.20" y1="628.30" x2="331.20" y2="628.30" stroke="#1a1a1a" stroke-width="1.0"/>
<text x="325.40" y="631.05" font-size="8.3" text-anchor="end" textLength="4.15" lengthAdjust="spacingAndGlyphs" fill="#161616" stroke="#161616" stroke-width="0.12">4</text>
<line x1="328.20" y1="657.70" x2="331.20" y2="657.70" stroke="#1a1a1a" stroke-width="1.0"/>
<text x="325.40" y="660.45" font-size="8.3" text-anchor="end" textLength="4.15" lengthAdjust="spacingAndGlyphs" fill="#161616" stroke="#161616" stroke-width="0.12">2</text>
<line x1="328.20" y1="687.00" x2="331.20" y2="687.00" stroke="#1a1a1a" stroke-width="1.0"/>
<text x="325.40" y="689.75" font-size="8.3" text-anchor="end" textLength="4.15" lengthAdjust="spacingAndGlyphs" fill="#161616" stroke="#161616" stroke-width="0.12">0</text>
<line x1="330.70" y1="687.00" x2="508.00" y2="687.00" stroke="#1a1a1a" stroke-width="1.1"/>
<line x1="375.20" y1="687.00" x2="375.20" y2="690.50" stroke="#1a1a1a" stroke-width="1.0"/>
<line x1="463.30" y1="687.00" x2="463.30" y2="690.50" stroke="#1a1a1a" stroke-width="1.0"/>
<text transform="translate(302.60,626.40) rotate(-90)" font-size="9.4" text-anchor="middle" textLength="35.40" lengthAdjust="spacingAndGlyphs" fill="#161616" stroke="#161616" stroke-width="0.12">Invasion</text>
<text transform="translate(312.40,625.30) rotate(-90)" font-size="9.4" text-anchor="middle" textLength="113.40" lengthAdjust="spacingAndGlyphs" fill="#161616" stroke="#161616" stroke-width="0.12">(fold change from control)</text>
<line x1="356.20" y1="587.90" x2="447.30" y2="587.90" stroke="#2a2a2a" stroke-width="0.9"/>
<text x="401.80" y="584.80" font-size="8.2" text-anchor="middle" textLength="31.20" lengthAdjust="spacingAndGlyphs" fill="#161616" stroke="#161616" stroke-width="0.12">P = 0.019</text>
<text x="374.80" y="701.20" font-size="8.1" text-anchor="middle" textLength="26.60" lengthAdjust="spacingAndGlyphs" fill="#161616" stroke="#161616" stroke-width="0.12">Resting</text>
<text x="463.40" y="701.20" font-size="8.1" text-anchor="middle" textLength="63.50" lengthAdjust="spacingAndGlyphs" fill="#161616" stroke="#161616" stroke-width="0.12">MDA-MB-231 APR</text>
<line x1="358.80" y1="651.80" x2="358.80" y2="660.50" stroke="#2a2a2a" stroke-width="1.0"/>
<line x1="354.00" y1="651.80" x2="363.70" y2="651.80" stroke="#2a2a2a" stroke-width="1.0"/>
<line x1="354.00" y1="660.50" x2="363.70" y2="660.50" stroke="#2a2a2a" stroke-width="1.0"/>
<line x1="347.40" y1="656.20" x2="369.50" y2="656.20" stroke="#2a2a2a" stroke-width="1.35"/>
<line x1="391.50" y1="639.80" x2="391.50" y2="665.80" stroke="#2a2a2a" stroke-width="1.0"/>
<line x1="386.00" y1="639.80" x2="397.50" y2="639.80" stroke="#2a2a2a" stroke-width="1.0"/>
<line x1="386.00" y1="665.80" x2="397.50" y2="665.80" stroke="#2a2a2a" stroke-width="1.0"/>
<line x1="381.00" y1="652.30" x2="402.40" y2="652.30" stroke="#2a2a2a" stroke-width="1.35"/>
<line x1="446.40" y1="615.20" x2="446.40" y2="631.00" stroke="#2a2a2a" stroke-width="1.0"/>
<line x1="441.10" y1="615.20" x2="452.50" y2="615.20" stroke="#2a2a2a" stroke-width="1.0"/>
<line x1="441.10" y1="631.00" x2="452.50" y2="631.00" stroke="#2a2a2a" stroke-width="1.0"/>
<line x1="435.80" y1="622.70" x2="457.50" y2="622.70" stroke="#2a2a2a" stroke-width="1.35"/>
<line x1="479.40" y1="638.60" x2="479.40" y2="654.40" stroke="#2a2a2a" stroke-width="1.0"/>
<line x1="474.00" y1="638.60" x2="485.40" y2="638.60" stroke="#2a2a2a" stroke-width="1.0"/>
<line x1="474.00" y1="654.40" x2="485.40" y2="654.40" stroke="#2a2a2a" stroke-width="1.0"/>
<line x1="468.70" y1="646.10" x2="490.70" y2="646.10" stroke="#2a2a2a" stroke-width="1.35"/>
<circle cx="446.35" cy="50.70" r="1.75" fill="#a51e3c"/>
<circle cx="451.90" cy="52.90" r="1.75" fill="#a51e3c"/>
<circle cx="441.10" cy="55.90" r="1.75" fill="#a51e3c"/>
<circle cx="446.35" cy="56.60" r="1.75" fill="#a51e3c"/>
<circle cx="446.35" cy="66.70" r="1.75" fill="#a51e3c"/>
<rect x="491.15" y="84.05" width="3.9" height="3.9" fill="#3b5a8b"/>
<rect x="485.95" y="86.85" width="3.9" height="3.9" fill="#3b5a8b"/>
<rect x="485.95" y="93.55" width="3.9" height="3.9" fill="#3b5a8b"/>
<rect x="490.95" y="93.55" width="3.9" height="3.9" fill="#3b5a8b"/>
<rect x="488.65" y="100.75" width="3.9" height="3.9" fill="#3b5a8b"/>
<circle cx="82.70" cy="197.10" r="2.1" fill="#a51e3c"/>
<circle cx="85.90" cy="206.30" r="2.1" fill="#a51e3c"/>
<circle cx="79.60" cy="212.30" r="2.1" fill="#a51e3c"/>
<circle cx="82.70" cy="227.10" r="2.1" fill="#a51e3c"/>
<circle cx="79.60" cy="235.60" r="2.1" fill="#a51e3c"/>
<circle cx="85.90" cy="235.30" r="2.1" fill="#a51e3c"/>
<circle cx="82.70" cy="247.90" r="2.1" fill="#a51e3c"/>
<circle cx="85.90" cy="250.70" r="2.1" fill="#a51e3c"/>
<circle cx="79.60" cy="254.30" r="2.1" fill="#a51e3c"/>
<rect x="109.40" y="227.90" width="4.0" height="4.0" fill="#3b5a8b"/>
<rect x="102.10" y="232.90" width="4.0" height="4.0" fill="#3b5a8b"/>
<rect x="116.80" y="233.90" width="4.0" height="4.0" fill="#3b5a8b"/>
<rect x="107.25" y="236.00" width="4.0" height="4.0" fill="#3b5a8b"/>
<rect x="111.90" y="237.00" width="4.0" height="4.0" fill="#3b5a8b"/>
<rect x="103.20" y="239.60" width="4.0" height="4.0" fill="#3b5a8b"/>
<rect x="109.40" y="245.10" width="4.0" height="4.0" fill="#3b5a8b"/>
<rect x="115.60" y="244.80" width="4.0" height="4.0" fill="#3b5a8b"/>
<polygon points="135.10,247.00 139.50,247.00 137.30,243.20" fill="#5ba446"/>
<polygon points="141.20,246.70 145.60,246.70 143.40,242.90" fill="#5ba446"/>
<polygon points="132.00,265.10 136.40,265.10 134.20,261.30" fill="#5ba446"/>
<polygon points="138.00,265.10 142.40,265.10 140.20,261.30" fill="#5ba446"/>
<polygon points="144.30,264.70 148.70,264.70 146.50,260.90" fill="#5ba446"/>
<polygon points="141.20,269.80 145.60,269.80 143.40,266.00" fill="#5ba446"/>
<polygon points="135.10,272.70 139.50,272.70 137.30,268.90" fill="#5ba446"/>
<circle cx="233.50" cy="210.10" r="2.1" fill="#a51e3c"/>
<circle cx="226.40" cy="214.00" r="2.1" fill="#a51e3c"/>
<circle cx="230.00" cy="228.40" r="2.1" fill="#a51e3c"/>
<circle cx="230.00" cy="241.90" r="2.1" fill="#a51e3c"/>
<circle cx="230.00" cy="253.70" r="2.1" fill="#a51e3c"/>
<circle cx="222.20" cy="258.50" r="2.1" fill="#a51e3c"/>
<circle cx="237.40" cy="256.70" r="2.1" fill="#a51e3c"/>
<circle cx="227.10" cy="262.30" r="2.1" fill="#a51e3c"/>
<circle cx="232.40" cy="260.90" r="2.1" fill="#a51e3c"/>
<rect x="251.80" y="237.10" width="4.0" height="4.0" fill="#3b5a8b"/>
<rect x="255.40" y="239.20" width="4.0" height="4.0" fill="#3b5a8b"/>
<rect x="262.00" y="236.20" width="4.0" height="4.0" fill="#3b5a8b"/>
<rect x="262.00" y="245.20" width="4.0" height="4.0" fill="#3b5a8b"/>
<rect x="250.90" y="259.00" width="4.0" height="4.0" fill="#3b5a8b"/>
<rect x="256.00" y="262.70" width="4.0" height="4.0" fill="#3b5a8b"/>
<rect x="261.50" y="261.10" width="4.0" height="4.0" fill="#3b5a8b"/>
<rect x="266.50" y="256.80" width="4.0" height="4.0" fill="#3b5a8b"/>
<polygon points="289.20,261.90 293.60,261.90 291.40,258.10" fill="#5ba446"/>
<polygon points="286.30,274.90 290.70,274.90 288.50,271.10" fill="#5ba446"/>
<polygon points="292.80,273.10 297.20,273.10 295.00,269.30" fill="#5ba446"/>
<polygon points="284.30,278.10 288.70,278.10 286.50,274.30" fill="#5ba446"/>
<polygon points="291.30,278.10 295.70,278.10 293.50,274.30" fill="#5ba446"/>
<polygon points="294.70,277.70 299.10,277.70 296.90,273.90" fill="#5ba446"/>
<circle cx="379.00" cy="202.20" r="2.1" fill="#a51e3c"/>
<circle cx="382.60" cy="226.70" r="2.1" fill="#a51e3c"/>
<circle cx="375.80" cy="230.00" r="2.1" fill="#a51e3c"/>
<circle cx="379.00" cy="238.10" r="2.1" fill="#a51e3c"/>
<circle cx="382.60" cy="249.20" r="2.1" fill="#a51e3c"/>
<circle cx="375.80" cy="254.60" r="2.1" fill="#a51e3c"/>
<circle cx="379.00" cy="266.80" r="2.1" fill="#a51e3c"/>
<circle cx="382.60" cy="268.00" r="2.1" fill="#a51e3c"/>
<circle cx="375.80" cy="274.50" r="2.1" fill="#a51e3c"/>
<rect x="405.10" y="209.10" width="4.0" height="4.0" fill="#3b5a8b"/>
<rect x="408.50" y="248.60" width="4.0" height="4.0" fill="#3b5a8b"/>
<rect x="401.90" y="251.30" width="4.0" height="4.0" fill="#3b5a8b"/>
<rect x="401.90" y="258.00" width="4.0" height="4.0" fill="#3b5a8b"/>
<rect x="408.50" y="263.20" width="4.0" height="4.0" fill="#3b5a8b"/>
<rect x="398.90" y="269.20" width="4.0" height="4.0" fill="#3b5a8b"/>
<rect x="411.40" y="271.30" width="4.0" height="4.0" fill="#3b5a8b"/>
<rect x="405.10" y="273.70" width="4.0" height="4.0" fill="#3b5a8b"/>
<polygon points="433.20,226.70 437.60,226.70 435.40,222.90" fill="#5ba446"/>
<polygon points="439.20,267.10 443.60,267.10 441.40,263.30" fill="#5ba446"/>
<polygon points="423.80,268.80 428.20,268.80 426.00,265.00" fill="#5ba446"/>
<polygon points="433.20,271.80 437.60,271.80 435.40,268.00" fill="#5ba446"/>
<polygon points="427.10,273.30 431.50,273.30 429.30,269.50" fill="#5ba446"/>
<polygon points="433.20,279.90 437.60,279.90 435.40,276.10" fill="#5ba446"/>
<polygon points="439.20,278.70 443.60,278.70 441.40,274.90" fill="#5ba446"/>
<rect x="75.80" y="363.80" width="4.6" height="4.6" fill="none" stroke="#bd4459" stroke-width="1.1"/>
<rect x="75.45" y="375.85" width="5.3" height="5.3" fill="#3b5a8b"/>
<rect x="90.80" y="404.00" width="5.0" height="5.0" fill="none" stroke="#bd4459" stroke-width="1.1"/>
<rect x="90.80" y="440.60" width="5.0" height="5.0" fill="none" stroke="#bd4459" stroke-width="1.1"/>
<rect x="90.80" y="458.30" width="5.0" height="5.0" fill="none" stroke="#bd4459" stroke-width="1.1"/>
<rect x="90.80" y="481.30" width="5.0" height="5.0" fill="none" stroke="#bd4459" stroke-width="1.1"/>
<rect x="114.80" y="478.80" width="5.4" height="5.4" fill="#3b5a8b"/>
<rect x="121.10" y="477.30" width="5.4" height="5.4" fill="#3b5a8b"/>
<rect x="121.20" y="485.30" width="5.4" height="5.4" fill="#3b5a8b"/>
<rect x="126.90" y="485.30" width="5.4" height="5.4" fill="#3b5a8b"/>
<rect x="171.80" y="385.80" width="5.0" height="5.0" fill="none" stroke="#bd4459" stroke-width="1.1"/>
<rect x="171.80" y="434.60" width="5.0" height="5.0" fill="none" stroke="#bd4459" stroke-width="1.1"/>
<rect x="171.80" y="466.20" width="5.0" height="5.0" fill="none" stroke="#bd4459" stroke-width="1.1"/>
<rect x="171.80" y="481.20" width="5.0" height="5.0" fill="none" stroke="#bd4459" stroke-width="1.1"/>
<rect x="201.70" y="452.70" width="5.4" height="5.4" fill="#3b5a8b"/>
<rect x="201.70" y="472.10" width="5.4" height="5.4" fill="#3b5a8b"/>
<rect x="198.10" y="483.60" width="5.4" height="5.4" fill="#3b5a8b"/>
<rect x="205.70" y="481.60" width="5.4" height="5.4" fill="#3b5a8b"/>
<rect x="297.70" y="360.80" width="4.6" height="4.6" fill="none" stroke="#bd4459" stroke-width="1.1"/>
<rect x="297.35" y="372.95" width="5.3" height="5.3" fill="#3b5a8b"/>
<rect x="310.10" y="446.40" width="5.0" height="5.0" fill="none" stroke="#bd4459" stroke-width="1.1"/>
<rect x="317.80" y="452.10" width="5.0" height="5.0" fill="none" stroke="#bd4459" stroke-width="1.1"/>
<rect x="313.70" y="470.60" width="5.0" height="5.0" fill="none" stroke="#bd4459" stroke-width="1.1"/>
<rect x="341.10" y="444.50" width="5.4" height="5.4" fill="#3b5a8b"/>
<rect x="348.80" y="448.50" width="5.4" height="5.4" fill="#3b5a8b"/>
<rect x="348.80" y="477.00" width="5.4" height="5.4" fill="#3b5a8b"/>
<rect x="341.10" y="483.80" width="5.4" height="5.4" fill="#3b5a8b"/>
<rect x="398.00" y="377.00" width="5.0" height="5.0" fill="none" stroke="#bd4459" stroke-width="1.1"/>
<rect x="398.00" y="403.70" width="5.0" height="5.0" fill="none" stroke="#bd4459" stroke-width="1.1"/>
<rect x="398.00" y="445.20" width="5.0" height="5.0" fill="none" stroke="#bd4459" stroke-width="1.1"/>
<rect x="429.40" y="420.30" width="5.4" height="5.4" fill="#3b5a8b"/>
<rect x="429.40" y="434.60" width="5.4" height="5.4" fill="#3b5a8b"/>
<rect x="433.40" y="447.20" width="5.4" height="5.4" fill="#3b5a8b"/>
<rect x="425.40" y="454.30" width="5.4" height="5.4" fill="#3b5a8b"/>
<rect x="342.10" y="541.20" width="4.6" height="4.6" fill="none" stroke="#bd4459" stroke-width="1.1"/>
<rect x="341.75" y="553.15" width="5.3" height="5.3" fill="#3b5a8b"/>
<rect x="356.30" y="636.10" width="5.0" height="5.0" fill="none" stroke="#bd4459" stroke-width="1.1"/>
<rect x="352.80" y="646.30" width="5.0" height="5.0" fill="none" stroke="#bd4459" stroke-width="1.1"/>
<rect x="359.50" y="653.30" width="5.0" height="5.0" fill="none" stroke="#bd4459" stroke-width="1.1"/>
<rect x="349.30" y="659.30" width="5.0" height="5.0" fill="none" stroke="#bd4459" stroke-width="1.1"/>
<rect x="363.00" y="662.50" width="5.0" height="5.0" fill="none" stroke="#bd4459" stroke-width="1.1"/>
<rect x="356.30" y="665.10" width="5.0" height="5.0" fill="none" stroke="#bd4459" stroke-width="1.1"/>
<rect x="388.90" y="624.00" width="5.2" height="5.2" fill="#3b5a8b"/>
<rect x="385.20" y="664.60" width="5.2" height="5.2" fill="#3b5a8b"/>
<rect x="392.40" y="662.00" width="5.2" height="5.2" fill="#3b5a8b"/>
<rect x="443.90" y="594.40" width="5.0" height="5.0" fill="none" stroke="#bd4459" stroke-width="1.1"/>
<rect x="443.90" y="607.40" width="5.0" height="5.0" fill="none" stroke="#bd4459" stroke-width="1.1"/>
<rect x="447.70" y="615.30" width="5.0" height="5.0" fill="none" stroke="#bd4459" stroke-width="1.1"/>
<rect x="440.40" y="621.10" width="5.0" height="5.0" fill="none" stroke="#bd4459" stroke-width="1.1"/>
<rect x="443.90" y="637.80" width="5.0" height="5.0" fill="none" stroke="#bd4459" stroke-width="1.1"/>
<rect x="443.90" y="647.00" width="5.0" height="5.0" fill="none" stroke="#bd4459" stroke-width="1.1"/>
<rect x="476.80" y="620.50" width="5.2" height="5.2" fill="#3b5a8b"/>
<rect x="476.80" y="631.90" width="5.2" height="5.2" fill="#3b5a8b"/>
<rect x="469.80" y="651.30" width="5.2" height="5.2" fill="#3b5a8b"/>
<rect x="476.80" y="658.30" width="5.2" height="5.2" fill="#3b5a8b"/>
<rect x="484.20" y="657.10" width="5.2" height="5.2" fill="#3b5a8b"/>
<rect x="0" y="0" width="520" height="1.6" fill="#5a5a5a"/>
<rect x="0" y="0" width="1.8" height="711" fill="#555"/>
<rect x="518.8" y="0" width="1.2" height="711" fill="#111"/>
<rect x="0" y="709.5" width="520" height="1.5" fill="#111"/>
</svg>
</body></html>
